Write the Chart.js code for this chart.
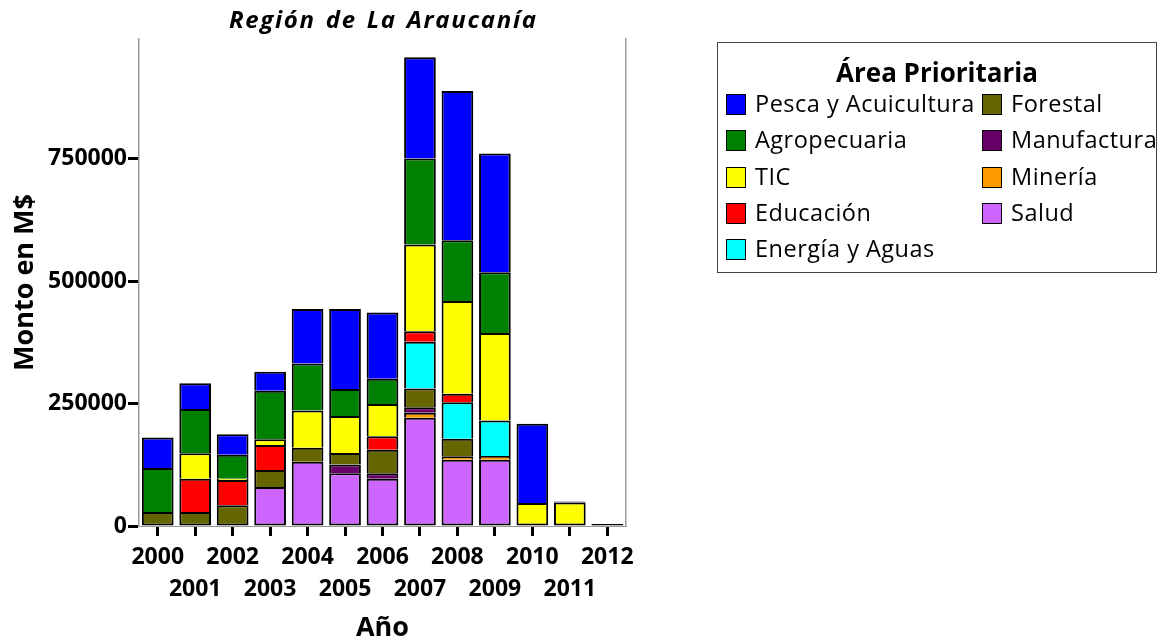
<!DOCTYPE html>
<html>
<head>
<meta charset="utf-8">
<script src="https://cdn.jsdelivr.net/npm/chart.js@4"></script>
<style>
  body { margin: 0; background: #fff; }
  #wrap { position: relative; width: 1160px; height: 641px; }
  #title { position: absolute; left: 139px; width: 487px; top: 4px; text-align: center;
           font-family: "Open Sans", sans-serif; font-weight: bold; font-style: italic;
           font-size: 24px; line-height: 30px; letter-spacing: 1.7px; word-spacing: 2px;
           padding-left: 1.7px; box-sizing: border-box; color: #000; }
  #legend { position: absolute; left: 717px; top: 42px; width: 438px; height: 229px;
            border: 1.5px solid #444; font-family: "Open Sans", sans-serif; color: #000; }
  #legend .ttl { position: absolute; left: 0; right: 0; top: 11px; text-align: center;
                 font-weight: bold; font-size: 26px; line-height: 36px; }
  #legend .it { position: absolute; font-size: 23.5px; line-height: 30px; white-space: nowrap;
                letter-spacing: 0.5px; }
  #legend .sw { display: inline-block; width: 18px; height: 19px; border: 1.5px solid #000;
                vertical-align: -3px; margin-right: 9px; }
</style>
</head>
<body>
<div id="wrap">
  <canvas id="chart" width="1160" height="641"></canvas>
  <div id="title">Región de La Araucanía</div>
  <div id="legend"><div class="ttl">Área Prioritaria</div></div>
</div>
<script>
const years = ['2000','2001','2002','2003','2004','2005','2006','2007','2008','2009','2010','2011','2012'];
const yTicks = [0, 250000, 500000, 750000];

// stacked bottom -> top
const salud       = [null, null, null, 79700, 131500, 107600, 96700, 221400, 135600, 135600, null, null, null];
const mineria     = [null, null, null, null, null, null, null, 10200, 6800, 7400, null, null, null];
const manufactura = [null, null, null, null, null, 17800, 10900, 10900, null, null, null, null, null];
const forestal    = [28600, 28600, 42200, 34700, 28600, 23800, 48400, 38200, 36100, null, null, null, null];
const energia     = [null, null, null, null, null, null, null, 96000, 74200, 72300, null, null, null];
const educacion   = [null, 68000, 52000, 51000, null, null, 27200, 21100, 17700, null, null, null, null];
const tic         = [null, 52000, 2500, 11600, 75700, 75600, 66100, 177200, 189400, 179100, 47000, 48000, null];
const agro        = [90000, 90600, 49000, 99500, 96000, 55200, 51700, 175700, 124000, 124000, null, null, null];
const pesca       = [62000, 52600, 42000, 38800, 111700, 163500, 135000, 207000, 305200, 242500, 162000, 2000, 4000];

const series = [
  { name: 'Salud', data: salud, color: '#CC66FF' },
  { name: 'Minería', data: mineria, color: '#FF9900' },
  { name: 'Manufactura', data: manufactura, color: '#660066' },
  { name: 'Forestal', data: forestal, color: '#666600' },
  { name: 'Energía y Aguas', data: energia, color: '#00FFFF' },
  { name: 'Educación', data: educacion, color: '#FF0000' },
  { name: 'TIC', data: tic, color: '#FFFF00' },
  { name: 'Agropecuaria', data: agro, color: '#008000' },
  { name: 'Pesca y Acuicultura', data: pesca, color: '#0000FF' }
];

// only the lowest segment of each bar gets a bottom border, so joins stay 2px
function segBorder(c) {
  let lowest = true;
  for (let k = 0; k < c.datasetIndex; k++) {
    if (series[k].data[c.dataIndex] != null) { lowest = false; break; }
  }
  return { top: 2, left: 2, right: 2, bottom: lowest ? 2 : 0 };
}

const ctx = document.getElementById('chart').getContext('2d');
new Chart(ctx, {
  type: 'bar',
  data: {
    labels: years,
    datasets: series.map(s => ({
      label: s.name,
      data: s.data,
      backgroundColor: s.color,
      borderColor: '#000',
      borderWidth: segBorder,
      borderSkipped: false,
      barPercentage: 0.9,
      categoryPercentage: 0.94
    }))
  },
  options: {
    responsive: false,
    animation: false,
    layout: { padding: { left: 0, right: 534, top: 39, bottom: 0 } },
    plugins: {
      legend: { display: false },
      tooltip: { enabled: false }
    },
    scales: {
      x: {
        stacked: true,
        offset: true,
        border: { color: '#999', width: 1 },
        grid: { offset: false, drawOnChartArea: false, color: '#000', tickLength: 10, tickWidth: 3 },
        ticks: {
          autoSkip: false, maxRotation: 0, color: '#000', padding: 5,
          font: { family: 'Open Sans', size: 23, weight: 'bold', lineHeight: '32px' },
          callback: function(v, i) { return i % 2 ? ['', years[i]] : years[i]; }
        },
        title: {
          display: true, text: 'Año', color: '#000',
          font: { family: 'Open Sans', size: 27, weight: 'bold' },
          padding: { top: 0, bottom: -4 }
        },
        afterFit: function(s) { s.height = 115; }
      },
      y: {
        stacked: true,
        min: 0,
        max: 995000,
        border: { color: '#999', width: 1.5 },
        grid: { drawOnChartArea: false, color: '#000', tickLength: 11, tickWidth: 3 },
        ticks: {
          color: '#000', padding: 1,
          font: { family: 'Open Sans', size: 23, weight: 'bold' },
          callback: function(v) { return String(v); }
        },
        afterBuildTicks: function(s) { s.ticks = yTicks.map(v => ({ value: v })); },
        title: {
          display: true, text: 'Monto en M$', color: '#000',
          font: { family: 'Open Sans', size: 27, weight: 'bold' },
          padding: { top: 9, bottom: 0 }
        },
        afterFit: function(s) { s.width = 139; }
      },
      y2: {
        position: 'right',
        border: { color: '#999', width: 1.5 },
        grid: { display: false },
        ticks: { display: false },
        afterFit: function(s) { s.width = 0; }
      }
    }
  }
});

// legend: two columns, top layer first
const legendOrder = series.slice().reverse();
const lg = document.getElementById('legend');
legendOrder.forEach(function(s, i) {
  const col = i < 5 ? 0 : 1;
  const row = i % 5;
  const d = document.createElement('div');
  d.className = 'it';
  d.style.left = (col ? 264 : 8) + 'px';
  d.style.top = (45 + row * 36.3) + 'px';
  d.innerHTML = '<span class="sw" style="background:' + s.color + '"></span>' + s.name;
  lg.appendChild(d);
});
</script>
</body>
</html>
